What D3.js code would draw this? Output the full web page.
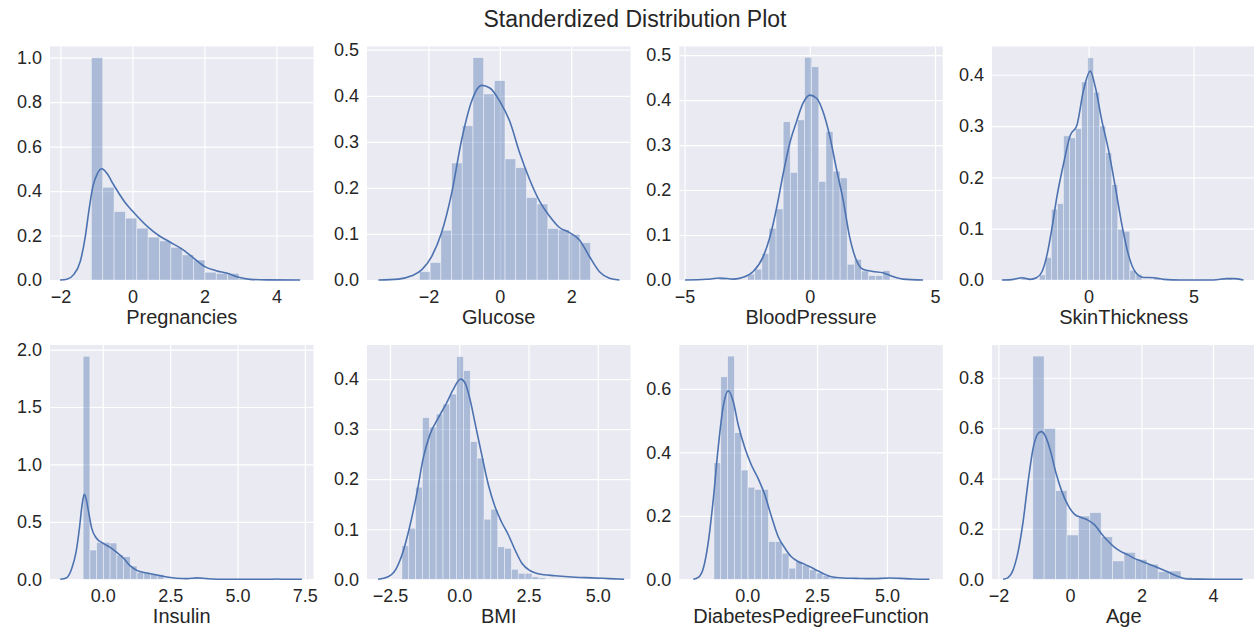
<!DOCTYPE html>
<html>
<head>
<meta charset="utf-8">
<script src="https://cdn.jsdelivr.net/npm/d3@7"></script>
<style>
  body { margin: 0; background: #fff; }
  svg text { font-family: Arial, "Liberation Sans", sans-serif; fill: #262626; }
</style>
</head>
<body>
<svg id="chart" width="1254" height="630"></svg>
<script>
// ---- data (standardized values, density) ----
const names = ["Pregnancies", "Glucose", "BloodPressure", "SkinThickness",
               "Insulin", "BMI", "DiabetesPedigreeFunction", "Age"];

// histogram: first bin edge, bin width, bar heights
const pregStart = -1.141, pregWidth = 0.3155;
const pregHist = [1.0, 0.417, 0.308, 0.278, 0.233, 0.193, 0.176, 0.147, 0.113, 0.09, 0.035, 0.03, 0.03, 0.006, 0.003, 0.003];
const glucStart = -2.25, glucWidth = 0.2995;
const glucHist = [0.018, 0.038, 0.108, 0.254, 0.335, 0.483, 0.404, 0.433, 0.263, 0.244, 0.179, 0.165, 0.112, 0.109, 0.099, 0.081];
const bpStart = -3.62, bpWidth = 0.2842;
const bpHist = [0.005, 0, 0, 0, 0.013, 0.024, 0.059, 0.115, 0.158, 0.352, 0.239, 0.356, 0.495, 0.474, 0.219, 0.33, 0.242, 0.227, 0.035, 0.046, 0.02, 0.01, 0.01, 0.021];
const skinStart = -3.21, skinWidth = 0.2875;
const skinHist = [0.0045, 0, 0, 0.01, 0.044, 0.138, 0.149, 0.281, 0.277, 0.295, 0.386, 0.433, 0.366, 0.30, 0.248, 0.186, 0.099, 0.095, 0.019, 0.011, 0, 0, 0.0045, 0, 0, 0, 0, 0, 0, 0, 0, 0, 0, 0, 0.0045];
const insStart = -0.73, insWidth = 0.25;
const insHist = [1.942, 0.255, 0.322, 0.322, 0.316, 0.212, 0.197, 0.116, 0.061, 0.058, 0.049, 0.043, 0.005, 0.005, 0.01, 0.01, 0.01, 0.005, 0, 0.005, 0, 0, 0, 0, 0, 0, 0, 0, 0.005];
const bmiStart = -2.07, bmiWidth = 0.247;
const bmiHist = [0.067, 0.102, 0.184, 0.323, 0.304, 0.33, 0.35, 0.37, 0.445, 0.417, 0.275, 0.242, 0.12, 0.14, 0.065, 0.062, 0.02, 0.012, 0.012, 0.005, 0.003, 0, 0, 0, 0, 0, 0, 0, 0.003];
const dpfStart = -1.19, dpfWidth = 0.244;
const dpfHist = [0.367, 0.638, 0.703, 0.462, 0.344, 0.29, 0.283, 0.283, 0.119, 0.119, 0.082, 0.035, 0.056, 0.045, 0.03, 0.02, 0.012, 0.005, 0.003, 0.003, 0.005, 0, 0.003, 0, 0, 0, 0.003, 0, 0.003];
const ageStart = -1.04, ageWidth = 0.319;
const ageHist = [0.886, 0.599, 0.352, 0.176, 0.251, 0.265, 0.169, 0.073, 0.107, 0.079, 0.06, 0.03, 0.033, 0.008, 0.004, 0.003];

// kde curves as [x, density] points
const pregKde = [[-2.01,0],[-1.82,0.003],[-1.64,0.023],[-1.45,0.083],[-1.31,0.195],[-1.22,0.30],[-1.10,0.42],[-0.97,0.48],[-0.85,0.50],[-0.71,0.48],[-0.53,0.43],[-0.21,0.35],[0,0.31],[0.42,0.24],[0.73,0.20],[1.05,0.17],[1.37,0.14],[1.69,0.10],[2.01,0.06],[2.32,0.042],[2.64,0.03],[2.95,0.012],[3.27,0.003],[3.73,0.0005],[4.66,0]];
const glucKde = [[-3.40,0],[-2.84,0.002],[-2.47,0.009],[-2.19,0.022],[-1.91,0.051],[-1.63,0.103],[-1.35,0.188],[-1.07,0.304],[-0.79,0.388],[-0.51,0.4225],[-0.28,0.417],[0,0.388],[0.28,0.344],[0.56,0.275],[0.84,0.217],[1.12,0.170],[1.40,0.138],[1.67,0.114],[1.95,0.103],[2.23,0.087],[2.51,0.051],[2.79,0.018],[3.07,0.004],[3.35,0]];
const bpKde = [[-4.98,0],[-4.12,0.0015],[-3.59,0.0045],[-3.05,0.002],[-2.66,0.006],[-2.26,0.019],[-1.86,0.052],[-1.59,0.096],[-1.33,0.159],[-1.06,0.237],[-0.80,0.304],[-0.53,0.352],[-0.27,0.393],[0,0.411],[0.27,0.404],[0.53,0.374],[0.80,0.319],[1.06,0.248],[1.33,0.178],[1.59,0.096],[1.86,0.044],[2.12,0.024],[2.52,0.019],[2.92,0.016],[3.25,0.009],[3.72,0.002],[4.52,0]];
const skinKde = [[-4.13,0],[-3.57,0.0013],[-3.17,0.0045],[-2.78,0.0013],[-2.46,0.005],[-2.22,0.016],[-1.98,0.049],[-1.75,0.10],[-1.51,0.162],[-1.19,0.227],[-0.87,0.282],[-0.56,0.301],[-0.24,0.37],[0.08,0.407],[0.32,0.376],[0.63,0.311],[0.95,0.253],[1.27,0.182],[1.59,0.107],[1.90,0.049],[2.22,0.016],[2.62,0.005],[3.10,0.0045],[3.57,0.0013],[4.37,0],[5.95,0],[6.59,0.0026],[6.9,0.0026],[7.38,0]];
const insKde = [[-1.58,0],[-1.34,0.014],[-1.15,0.096],[-0.99,0.24],[-0.87,0.44],[-0.77,0.646],[-0.69,0.739],[-0.62,0.70],[-0.53,0.59],[-0.41,0.443],[-0.25,0.362],[0.02,0.313],[0.27,0.278],[0.52,0.235],[0.77,0.183],[1.01,0.119],[1.26,0.078],[1.63,0.055],[2.0,0.038],[2.38,0.02],[2.75,0.009],[3.12,0.006],[3.49,0.012],[3.86,0.006],[4.36,0.001],[6.09,0],[6.46,0.002],[6.83,0],[7.39,0]];
const bmiKde = [[-2.93,0],[-2.57,0.005],[-2.27,0.022],[-2.03,0.055],[-1.79,0.105],[-1.54,0.169],[-1.30,0.242],[-1.06,0.289],[-0.76,0.322],[-0.46,0.352],[-0.22,0.379],[0.05,0.40],[0.21,0.392],[0.39,0.359],[0.57,0.312],[0.81,0.249],[1.05,0.189],[1.29,0.145],[1.53,0.114],[1.77,0.089],[2.01,0.059],[2.26,0.032],[2.56,0.017],[2.86,0.011],[3.46,0.007],[4.19,0.004],[4.91,0.0027],[5.39,0.0013],[5.95,0]];
const dpfKde = [[-1.93,0],[-1.75,0.006],[-1.57,0.035],[-1.39,0.119],[-1.21,0.255],[-1.04,0.413],[-0.86,0.544],[-0.67,0.594],[-0.50,0.56],[-0.32,0.486],[-0.08,0.413],[0.15,0.36],[0.39,0.318],[0.63,0.266],[0.87,0.197],[1.11,0.134],[1.35,0.098],[1.58,0.071],[1.82,0.056],[2.06,0.047],[2.30,0.037],[2.54,0.026],[2.77,0.016],[3.01,0.008],[3.43,0.004],[3.90,0.003],[4.50,0.002],[5.10,0.004],[5.45,0.003],[5.93,0.001],[6.52,0]];
const ageKde = [[-1.87,0],[-1.73,0.007],[-1.59,0.037],[-1.45,0.11],[-1.31,0.229],[-1.17,0.388],[-1.03,0.52],[-0.89,0.579],[-0.80,0.586],[-0.68,0.566],[-0.54,0.507],[-0.40,0.427],[-0.24,0.354],[-0.06,0.295],[0.13,0.258],[0.32,0.245],[0.50,0.235],[0.69,0.216],[0.87,0.183],[1.06,0.152],[1.25,0.127],[1.43,0.11],[1.62,0.097],[1.80,0.083],[1.99,0.073],[2.18,0.062],[2.36,0.052],[2.55,0.041],[2.73,0.03],[2.92,0.017],[3.11,0.007],[3.29,0.001],[3.62,0.0005],[4.0,0.0003],[4.83,0]];

// axis ranges and tick values
const xDomains = [[-2.29, 5.03], [-3.72, 3.66], [-5.21, 5.31], [-4.6, 7.95],
                  [-1.96, 7.82], [-3.33, 6.18], [-2.43, 7.0], [-2.18, 5.19]];
const yMaxes = [1.05, 0.507, 0.519, 0.455, 2.04, 0.468, 0.738, 0.93];
const xTicks = [[-2, 0, 2, 4], [-2, 0, 2], [-5, 0, 5], [0, 5],
                [0, 2.5, 5, 7.5], [-2.5, 0, 2.5, 5], [0, 2.5, 5], [-2, 0, 2, 4]];
const yTicks = [[0, 0.2, 0.4, 0.6, 0.8, 1.0], [0, 0.1, 0.2, 0.3, 0.4, 0.5], [0, 0.1, 0.2, 0.3, 0.4, 0.5], [0, 0.1, 0.2, 0.3, 0.4],
                [0, 0.5, 1.0, 1.5, 2.0], [0, 0.1, 0.2, 0.3, 0.4], [0, 0.2, 0.4, 0.6], [0, 0.2, 0.4, 0.6, 0.8]];
const xFormats = ["d", "d", "d", "d", ".1f", ".1f", ".1f", "d"];

const starts = [pregStart, glucStart, bpStart, skinStart, insStart, bmiStart, dpfStart, ageStart];
const widths = [pregWidth, glucWidth, bpWidth, skinWidth, insWidth, bmiWidth, dpfWidth, ageWidth];
const hists = [pregHist, glucHist, bpHist, skinHist, insHist, bmiHist, dpfHist, ageHist];
const kdes = [pregKde, glucKde, bpKde, skinKde, insKde, bmiKde, dpfKde, ageKde];

// ---- layout ----
const colLeft = [50, 367, 679.3, 992];
const colWidth = 263.5;
const rowTop = [46.5, 345];
const rowHeight = [233.5, 234.3];
const blue = "#4C72B0";

const svg = d3.select("#chart");

svg.append("text")
    .attr("x", 635)
    .attr("y", 27)
    .attr("text-anchor", "middle")
    .style("font-size", "23px")
    .text("Standerdized Distribution Plot");

names.forEach((name, i) => {
    const row = Math.floor(i / 4), col = i % 4;
    const left = colLeft[col], top = rowTop[row], h = rowHeight[row];

    const x = d3.scaleLinear().domain(xDomains[i]).range([left, left + colWidth]);
    const y = d3.scaleLinear().domain([0, yMaxes[i]]).range([top + h, top]);

    const g = svg.append("g");

    // darkgrid background
    g.append("rect")
        .attr("x", left).attr("y", top)
        .attr("width", colWidth).attr("height", h)
        .attr("fill", "#EAEAF2");

    // x axis: white grid lines + tick labels
    const xAxis = g.append("g")
        .attr("transform", `translate(0,${top + h})`)
        .call(d3.axisBottom(x).tickValues(xTicks[i]).tickFormat(d3.format(xFormats[i]))
            .tickSize(-h).tickPadding(10));
    // y axis
    const yAxis = g.append("g")
        .attr("transform", `translate(${left},0)`)
        .call(d3.axisLeft(y).tickValues(yTicks[i]).tickFormat(d3.format(".1f"))
            .tickSize(-colWidth).tickPadding(8));

    [xAxis, yAxis].forEach(ax => {
        ax.select(".domain").remove();
        ax.selectAll(".tick line").attr("stroke", "#fff").attr("stroke-width", 1.2);
        ax.selectAll(".tick text")
            .attr("fill", "#262626")
            .style("font-size", "18px")
            .style("font-family", "Arial, 'Liberation Sans', sans-serif");
    });

    // histogram bars
    const start = starts[i], bw = widths[i];
    g.selectAll("rect.bar")
        .data(hists[i])
        .enter().append("rect")
        .attr("class", "bar")
        .attr("x", (d, k) => x(start + k * bw))
        .attr("width", x(start + bw) - x(start))
        .attr("y", d => y(d))
        .attr("height", d => y(0) - y(d))
        .attr("fill", blue)
        .attr("fill-opacity", 0.4)
        .attr("stroke", "#fff")
        .attr("stroke-opacity", 0.5)
        .attr("stroke-width", 0.8);

    // kde line
    const line = d3.line()
        .x(d => x(d[0]))
        .y(d => y(d[1]))
        .curve(d3.curveMonotoneX);

    g.append("path")
        .datum(kdes[i])
        .attr("d", line)
        .attr("fill", "none")
        .attr("stroke", blue)
        .attr("stroke-width", 1.6);

    // axis label
    g.append("text")
        .attr("x", left + colWidth / 2)
        .attr("y", top + h + 44)
        .attr("text-anchor", "middle")
        .style("font-size", "20px")
        .text(name);
});
</script>
</body>
</html>
